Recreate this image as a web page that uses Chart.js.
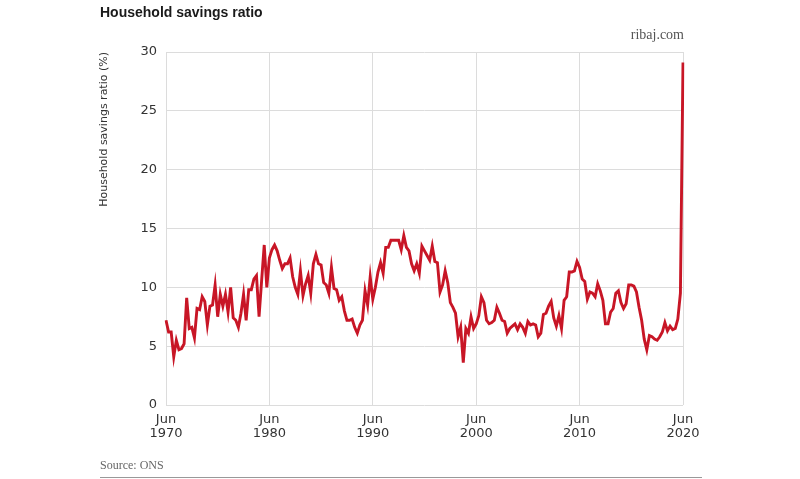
<!DOCTYPE html>
<html>
<head>
<meta charset="utf-8">
<script src="https://cdn.jsdelivr.net/npm/chart.js@4.4.0/dist/chart.umd.min.js"></script>
<style>
  html, body { margin: 0; padding: 0; background: #fff; }
  #wrap { position: relative; width: 800px; height: 479px; overflow: hidden; }
  #myChart { position: absolute; left: 0; top: 0; }
  .title { position: absolute; left: 100px; top: 4px; font: bold 14px "Liberation Sans", Arial, sans-serif; color: #1a1a1a; }
  .site { position: absolute; right: 116px; top: 27px; font: 14px "Liberation Serif", serif; color: #555; }
  .source { position: absolute; left: 100px; top: 458px; font: 12px "Liberation Serif", serif; color: #666; }
  .rule { position: absolute; left: 100px; width: 602px; top: 477px; height: 1px; background: #999; }
</style>
</head>
<body>
<div id="wrap">
  <canvas id="myChart" width="800" height="479"></canvas>
  <div class="title">Household savings ratio</div>
  <div class="site">ribaj.com</div>
  <div class="source">Source: ONS</div>
  <div class="rule"></div>
</div>
<script>
// household savings ratio (%), quarterly, Jun 1970 .. Jun 2020
const ratio1970s = [7.2, 6.2, 6.2, 4.1, 5.5, 4.7, 4.8, 5.2, 9.1, 6.5,
                    6.6, 5.7, 8.2, 8.1, 9.2, 8.8, 6.8, 8.4, 8.5, 10.2,
                    7.5, 9.4, 8.4, 9.4, 7.9, 10.0, 7.4, 7.2, 6.6, 7.8,
                    9.4, 7.2, 9.8, 9.8, 10.7, 11.0, 7.5, 10.6, 13.6, 10.0];
const ratio1980s = [12.5, 13.2, 13.6, 13.1, 12.3, 11.6, 12.0, 12.0, 12.5, 10.9,
                    10.0, 9.4, 11.4, 9.3, 10.3, 11.0, 9.5, 12.0, 12.8, 12.0,
                    11.9, 10.4, 10.2, 9.5, 11.7, 9.9, 9.8, 8.9, 9.2, 8.0,
                    7.2, 7.2, 7.3, 6.6, 6.1, 6.8, 7.2, 9.7, 8.5, 10.9];
const ratio1990s = [9.0, 10.0, 11.3, 12.1, 11.2, 13.4, 13.4, 14.0, 14.0, 14.0,
                    14.0, 13.2, 14.4, 13.4, 13.1, 12.0, 11.4, 12.0, 11.2, 13.5,
                    13.1, 12.7, 12.3, 13.5, 12.2, 12.1, 9.6, 10.2, 11.4, 10.4,
                    8.7, 8.3, 7.8, 5.8, 6.6, 3.6, 6.5, 6.1, 7.5, 6.5];
const ratio2000s = [6.9, 7.6, 9.2, 8.7, 7.2, 6.9, 7.0, 7.2, 8.3, 7.8,
                    7.2, 7.1, 6.1, 6.5, 6.7, 6.9, 6.4, 6.9, 6.6, 6.1,
                    7.1, 6.8, 6.9, 6.8, 5.8, 6.1, 7.7, 7.8, 8.4, 8.8,
                    7.4, 6.7, 7.6, 6.5, 8.9, 9.2, 11.3, 11.3, 11.4, 12.2];
const ratio2010s = [11.7, 10.7, 10.5, 9.0, 9.6, 9.5, 9.2, 10.3, 9.7, 8.9,
                    6.9, 6.9, 7.9, 8.2, 9.5, 9.7, 8.7, 8.2, 8.6, 10.2,
                    10.2, 10.1, 9.6, 8.3, 7.2, 5.6, 4.7, 5.9, 5.8, 5.6,
                    5.5, 5.8, 6.2, 7.0, 6.3, 6.7, 6.4, 6.5, 7.3, 9.5];
const ratio2020 = [29.1];

const savings = [].concat(ratio1970s, ratio1980s, ratio1990s, ratio2000s, ratio2010s, ratio2020);

const MONTHS = ['Mar', 'Jun', 'Sep', 'Dec'];
const quarters = [];
for (let y = 1970; y <= 2020; y++) {
  MONTHS.forEach(m => quarters.push(m + ' ' + y));
}
// series runs Jun 1970 .. Jun 2020
const labels = quarters.slice(1, 1 + savings.length);

const yTicks = [0, 5, 10, 15, 20, 25, 30];

const GRID = '#dcdcdc';
const LINE = 'rgb(200, 22, 38)';
const AXIS_FONT = 'DejaVu Sans';

// only the Jun of each decade gets a label and a grid line
const isDecade = (lbl) => /^Jun \d{3}0$/.test(lbl);

const ctx = document.getElementById('myChart').getContext('2d');
const myChart = new Chart(ctx, {
  type: 'line',
  data: {
    labels: labels,
    datasets: [{
      label: 'Household savings ratio',
      data: savings,
      borderColor: LINE,
      borderWidth: 2.9,
      pointRadius: 0,
      tension: 0,
      fill: false,
    }]
  },
  options: {
    responsive: false,
    animation: false,
    layout: {
      padding: { left: 97, top: 52, right: 117, bottom: 34 }
    },
    plugins: {
      legend: { display: false },
      title: { display: false },
      tooltip: { enabled: false },
    },
    scales: {
      x: {
        type: 'category',
        offset: false,
        border: { display: false },
        grid: {
          drawTicks: false,
          color: (c) => (c.tick && isDecade(labels[c.index]) ? GRID : 'rgba(0,0,0,0)'),
          lineWidth: 1,
        },
        ticks: {
          autoSkip: false,
          maxRotation: 0,
          padding: 7,
          color: '#333',
          font: { family: AXIS_FONT, size: 13, lineHeight: 1.1 },
          callback: function(value, index) {
            const lbl = labels[index];
            return isDecade(lbl) ? lbl.split(' ') : '';
          }
        },
        afterFit: (s) => { s.height = 40; },
      },
      y: {
        min: 0,
        max: 30,
        border: { display: false },
        grid: { drawTicks: false, color: GRID, lineWidth: 1 },
        afterBuildTicks: (s) => { s.ticks = yTicks.map(v => ({ value: v })); },
        ticks: {
          padding: 9,
          color: '#333',
          font: { family: AXIS_FONT, size: 13 },
        },
        title: {
          display: true,
          text: 'Household savings ratio (%)',
          align: 'end',
          color: '#333',
          padding: 0,
          font: { family: AXIS_FONT, size: 11, lineHeight: 1.3 },
        },
        afterFit: (s) => { s.width = 69; },
      }
    }
  }
});
</script>
</body>
</html>
